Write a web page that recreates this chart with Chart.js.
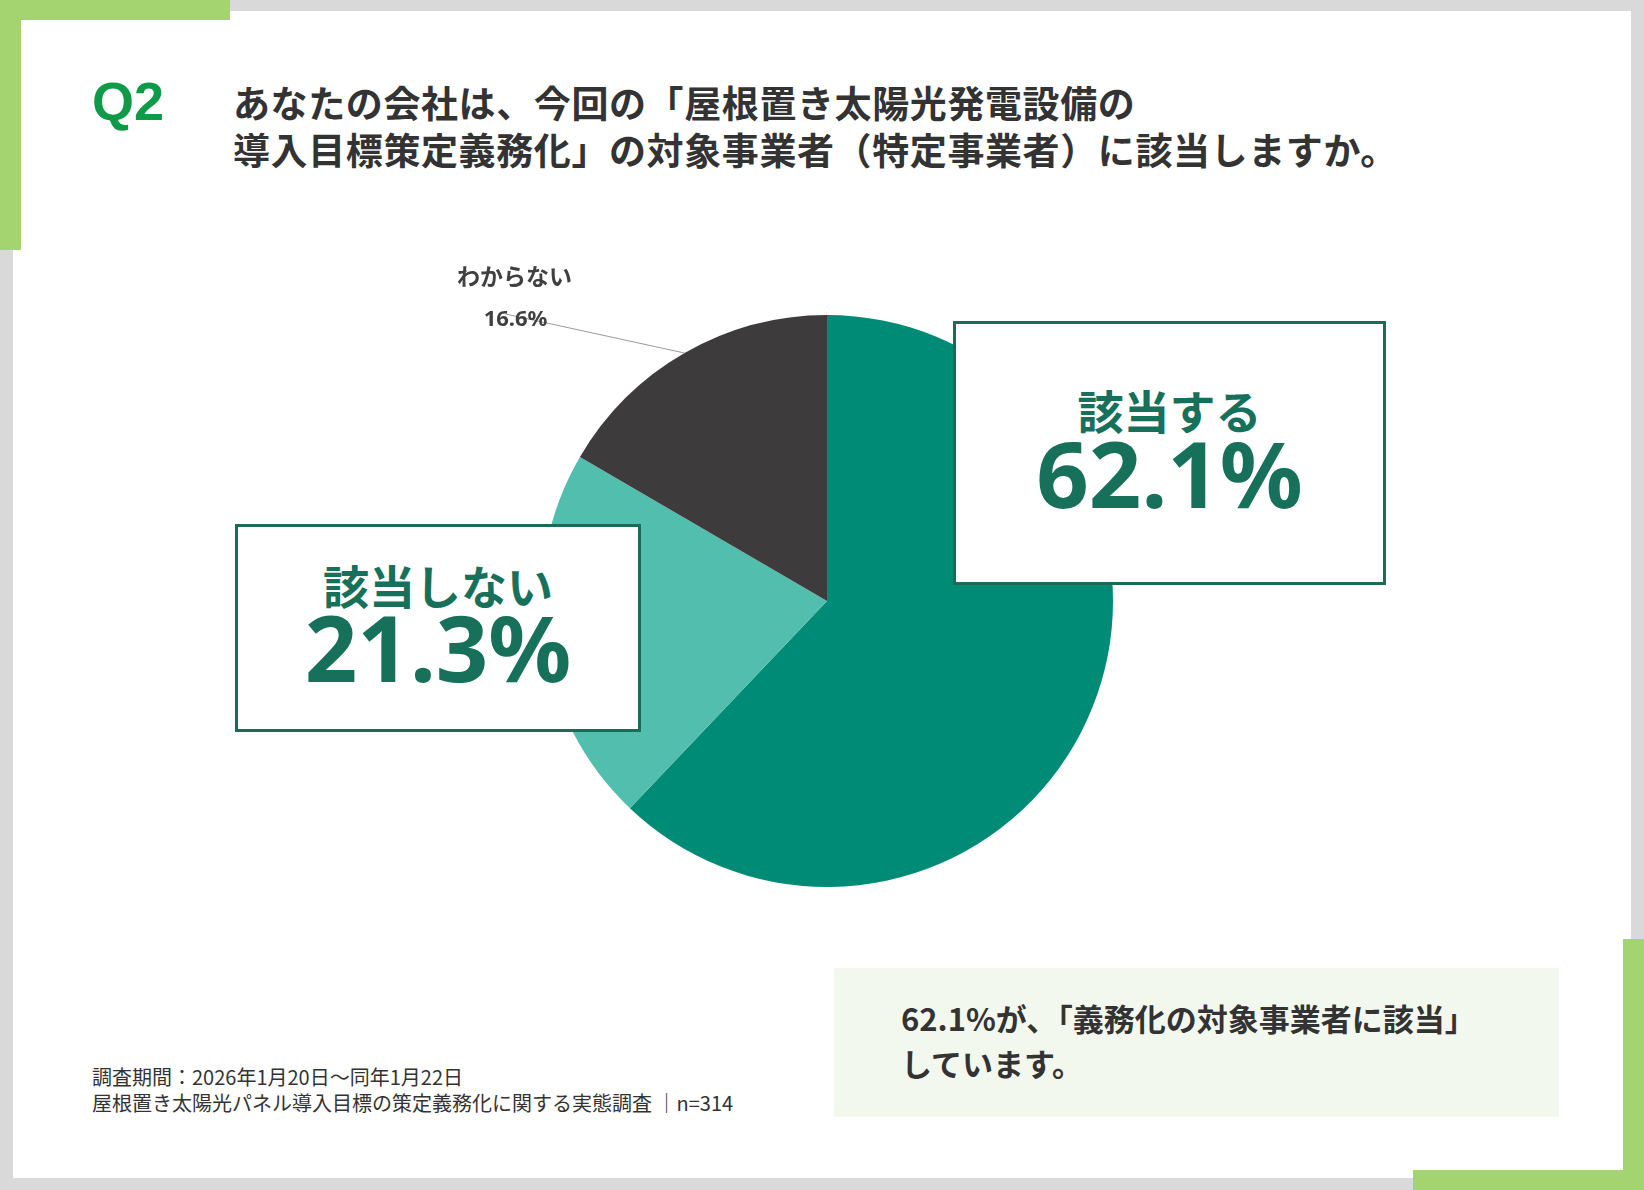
<!DOCTYPE html>
<html lang="ja">
<head>
<meta charset="utf-8">
<script src="https://cdn.jsdelivr.net/npm/chart.js@4.4.1/dist/chart.umd.min.js"></script>
<style>
  html, body { margin: 0; padding: 0; }
  body {
    width: 1644px; height: 1190px; position: relative; overflow: hidden;
    background: #d9d9d9;
    font-family: "Noto Sans", "Noto Sans CJK JP", sans-serif;
    color: #333;
  }
  .abs { position: absolute; }
  .card { left: 13px; top: 11px; width: 1618px; height: 1167px; background: #fff; }
  .green { background: #a4d46f; }
  .q { left: 92px; top: 71px; font: bold 54px/60px "Liberation Sans", Arial, sans-serif; color: #0e9a47; }
  .title { left: 233px; top: 79px; font-family: "Noto Sans CJK JP", sans-serif; font-weight: 700;
           font-size: 37px; line-height: 47px; letter-spacing: 0.6px; color: #333; white-space: nowrap; }
  #wrap { left: 420px; top: 240px; width: 814px; height: 722px; }
  .box { background: #fff; border: 3px solid #1b6b55; box-sizing: border-box; color: #17705a; }
  .box .lab { position: absolute; left: 0; width: 100%; text-align: center;
              font-family: "Noto Sans CJK JP", sans-serif; font-weight: 700; font-size: 46px; line-height: 50px; }
  .box .pct { position: absolute; left: 0; width: 100%; text-align: center;
              font-family: "Noto Sans", sans-serif; font-weight: 700; font-size: 92px; line-height: 100px; }
  .note { left: 834px; top: 968px; width: 725px; height: 149px; background: #f3f8ee; }
  .note div { position: absolute; left: 67px; font-family: "Noto Sans CJK JP", sans-serif; font-weight: 700;
              font-size: 31px; line-height: 42px; color: #333; white-space: nowrap; }
  .foot { left: 92px; top: 1064px; font-family: "Noto Sans CJK JP", sans-serif; font-size: 20px;
          line-height: 26px; color: #333; white-space: nowrap; }
</style>
</head>
<body>
<div class="abs card"></div>
<div class="abs green" style="left:0;top:0;width:230px;height:20px"></div>
<div class="abs green" style="left:0;top:0;width:21px;height:250px"></div>
<div class="abs green" style="left:1623px;top:939px;width:21px;height:251px"></div>
<div class="abs green" style="left:1413px;top:1170px;width:231px;height:20px"></div>

<div class="abs q">Q2</div>
<div class="abs title">あなたの会社は、今回の「屋根置き太陽光発電設備の<br>導入目標策定義務化」の対象事業者（特定事業者）に該当しますか。</div>

<div class="abs" id="wrap"><canvas id="pie"></canvas></div>

<div class="abs box" id="box0" style="left:953px;top:321px;width:433px;height:264px">
  <div class="lab" style="top:60px"></div>
  <div class="pct" style="top:99px"></div>
</div>
<div class="abs box" id="box1" style="left:235px;top:524px;width:406px;height:208px">
  <div class="lab" style="top:32px"></div>
  <div class="pct" style="top:70px"></div>
</div>

<div class="abs note">
  <div style="top:29px">62.1%が、「義務化の対象事業者に該当」</div>
  <div style="top:74px">しています。</div>
</div>

<div class="abs foot">調査期間：2026年1月20日～同年1月22日<br>屋根置き太陽光パネル導入目標の策定義務化に関する実態調査 ｜n=314</div>

<script>
// 回答の区分と割合（%）
const categories = ["該当する", "該当しない", "わからない"];
const shares = [62.1, 21.3, 16.6];
const sliceColors = ["#008b76", "#52bfae", "#3d3b3c"];

// 大きいラベルの箱（最初の2つ）
for (let i = 0; i < 2; i++) {
  const box = document.getElementById("box" + i);
  box.querySelector(".lab").textContent = categories[i];
  box.querySelector(".pct").textContent = shares[i].toFixed(1) + "%";
}

// 「わからない」は外側に引き出し線つきで描く
const outsideLabel = {
  id: "outsideLabel",
  afterDatasetsDraw(chart) {
    const i = 2;
    const arc = chart.getDatasetMeta(0).data[i];
    const mid = (arc.startAngle + arc.endAngle) / 2;
    const px = arc.x + Math.cos(mid) * arc.outerRadius;
    const py = arc.y + Math.sin(mid) * arc.outerRadius;
    const c = chart.ctx;
    c.save();
    c.strokeStyle = "#9a9a9a";
    c.lineWidth = 1;
    c.beginPath();
    c.moveTo(px - 179, py - 39);
    c.lineTo(px, py);
    c.stroke();
    c.fillStyle = "#404040";
    c.textAlign = "center";
    c.textBaseline = "middle";
    c.font = "bold 23px 'Noto Sans CJK JP'";
    c.fillText(categories[i], px - 170, py - 77);
    c.font = "bold 22px 'Noto Sans', 'Noto Sans CJK JP'";
    c.fillText(shares[i].toFixed(1) + "%", px - 169, py - 33);
    c.restore();
  }
};

const ctx = document.getElementById("pie").getContext("2d");
const pieChart = new Chart(ctx, {
  type: "pie",
  data: {
    labels: categories,
    datasets: [{
      data: shares,
      backgroundColor: sliceColors,
      borderWidth: 0
    }]
  },
  options: {
    responsive: true,
    maintainAspectRatio: false,
    animation: false,
    layout: { padding: { left: 121, right: 121, top: 75, bottom: 75 } },
    plugins: {
      legend: { display: false },
      tooltip: { enabled: false }
    }
  },
  plugins: [outsideLabel]
});
</script>
</body>
</html>
